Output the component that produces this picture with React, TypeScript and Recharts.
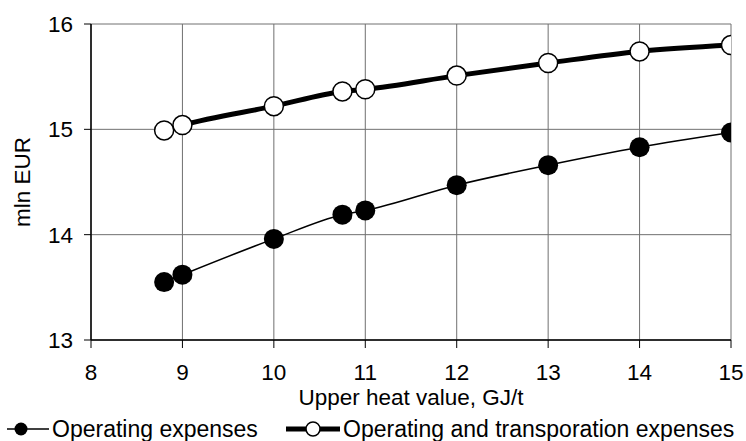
import { LineChart, Line, XAxis, YAxis, CartesianGrid, Legend } from "recharts";

if (typeof document !== "undefined") document.body.style.margin = "0";

const heatValues = [8.8, 9, 10, 10.75, 11, 12, 13, 14, 15];
const operating = [13.55, 13.62, 13.96, 14.19, 14.23, 14.47, 14.66, 14.83, 14.97];
const operatingTransport = [14.99, 15.04, 15.22, 15.36, 15.38, 15.51, 15.63, 15.74, 15.8];
const xTicks = [8, 9, 10, 11, 12, 13, 14, 15];
const yTicks = [13, 14, 15, 16];

const data = heatValues.map((x, i) => ({
  x,
  op: operating[i],
  opt: operatingTransport[i],
}));

const FONT = '"Liberation Sans", Arial, sans-serif';
const FS = 22.5;

function ChartLegend() {
  const text = { fontSize: 23, color: "#000", lineHeight: "26px", whiteSpace: "nowrap" as const };
  return (
    <div style={{ position: "relative", height: 41, fontFamily: FONT }}>
      <div style={{ position: "absolute", left: 6, top: 16, display: "flex", alignItems: "center" }}>
        <svg width={44} height={16}>
          <line x1={1} y1={8} x2={43} y2={8} stroke="#000" strokeWidth={1.5} />
          <circle cx={15} cy={8} r={6.5} fill="#000" />
        </svg>
        <span style={{ ...text, marginLeft: 2 }}>Operating expenses</span>
      </div>
      <div style={{ position: "absolute", left: 285, top: 16, display: "flex", alignItems: "center" }}>
        <svg width={56} height={18}>
          <line x1={1} y1={9} x2={55} y2={9} stroke="#000" strokeWidth={5} />
          <circle cx={28} cy={9} r={7} fill="#fff" stroke="#000" strokeWidth={1.5} />
        </svg>
        <span style={{ ...text, marginLeft: 2 }}>Operating and transporation expenses</span>
      </div>
    </div>
  );
}

export default function App() {
  return (
    <LineChart
      width={746}
      height={441}
      data={data}
      margin={{ top: 24, right: 15, left: 0, bottom: 0 }}
      style={{ fontFamily: FONT }}
    >
      <CartesianGrid stroke="#707070" strokeWidth={1} />
      <XAxis
        type="number"
        dataKey="x"
        domain={[8, 15]}
        ticks={xTicks}
        allowDataOverflow
        height={60}
        tickSize={8}
        tickMargin={16}
        tick={{ fill: "#000", fontSize: FS }}
        axisLine={{ stroke: "#000", strokeWidth: 1.5 }}
        tickLine={{ stroke: "#000" }}
        label={{ value: "Upper heat value, GJ/t", position: "insideBottom", offset: -5, fill: "#000", fontSize: FS }}
      />
      <YAxis
        type="number"
        domain={[13, 16]}
        ticks={yTicks}
        width={91}
        tickSize={7}
        tickMargin={11}
        tick={{ fill: "#000", fontSize: FS }}
        axisLine={{ stroke: "#000", strokeWidth: 1.5 }}
        tickLine={{ stroke: "#000" }}
        label={{ value: "mln EUR", angle: -90, position: "insideLeft", offset: 22, fill: "#000", fontSize: FS, style: { textAnchor: "middle" } }}
      />
      <Legend verticalAlign="bottom" height={41} content={() => <ChartLegend />} wrapperStyle={{ left: 0, width: 746 }} />
      <Line
        type="monotone"
        dataKey="opt"
        stroke="#000"
        strokeWidth={5}
        dot={{ r: 9.5, fill: "#fff", stroke: "#000", strokeWidth: 1.5 }}
        isAnimationActive={false}
      />
      <Line
        type="monotone"
        dataKey="op"
        stroke="#000"
        strokeWidth={1.5}
        dot={{ r: 10, fill: "#000", stroke: "none" }}
        isAnimationActive={false}
      />
    </LineChart>
  );
}
